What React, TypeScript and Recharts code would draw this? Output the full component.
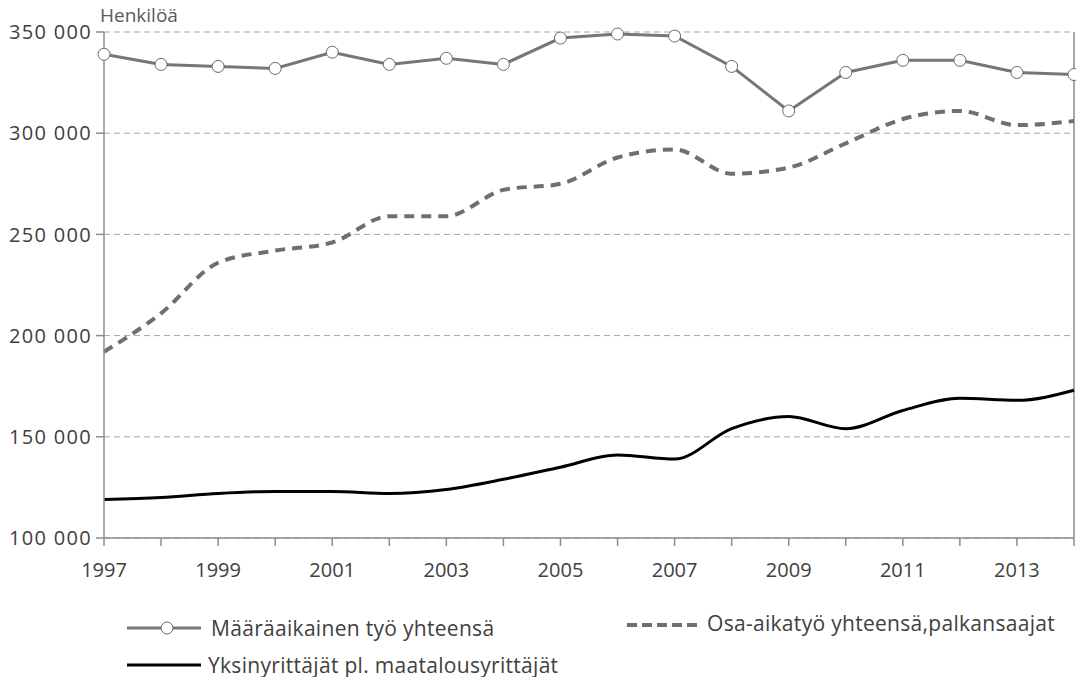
import React from 'react';
import { LineChart, Line, XAxis, YAxis, CartesianGrid, ReferenceLine } from 'recharts';

const years = [1997, 1998, 1999, 2000, 2001, 2002, 2003, 2004, 2005, 2006, 2007, 2008, 2009, 2010, 2011, 2012, 2013, 2014];
const maaraaikainen = [339000, 334000, 333000, 332000, 340000, 334000, 337000, 334000, 347000, 349000, 348000, 333000, 311000, 330000, 336000, 336000, 330000, 329000];
const osaAikatyo = [192000, 211000, 236000, 242000, 246000, 259000, 259000, 272000, 275000, 288000, 292000, 280000, 283000, 295000, 307000, 311000, 304000, 306000];
const yksinyrittajat = [119000, 120000, 122000, 123000, 123000, 122000, 124000, 129000, 135000, 141000, 139000, 154000, 160000, 154000, 163000, 169000, 168000, 173000];
const yTicks = [100000, 150000, 200000, 250000, 300000, 350000];

const seriesNames = {
  maara: 'Määräaikainen työ yhteensä',
  osa: 'Osa-aikatyö yhteensä,palkansaajat',
  yksin: 'Yksinyrittäjät pl. maatalousyrittäjät',
};

const data = years.map((y, i) => ({
  year: y,
  maara: maaraaikainen[i],
  osa: osaAikatyo[i],
  yksin: yksinyrittajat[i],
}));

const FONT = "'Open Sans', sans-serif";
const TEXT = '#404040';
const AXIS = '#8c8c8c';

const fmt = (v: number) => {
  const s = String(v);
  return s.slice(0, s.length - 3) + '\u00a0' + s.slice(-3);
};

export default function App() {
  return (
    <div style={{ position: 'absolute', left: 0, top: 0, width: 1076, height: 677, background: '#fff', fontFamily: FONT }}>
      <LineChart width={1076} height={677} data={data} margin={{ top: 32, right: 2, bottom: 99, left: 0 }}>
        <CartesianGrid vertical={false} stroke="#a6a6a6" strokeDasharray="6 4" />
        <XAxis
          dataKey="year"
          type="number"
          domain={[1997, 2014]}
          ticks={years}
          interval={0}
          tickFormatter={(v: number) => (v % 2 === 1 ? String(v) : '')}
          stroke={AXIS}
          strokeWidth={1.5}
          tickSize={8}
          tickMargin={17}
          height={40}
          tick={{ fill: TEXT, fontSize: 20, fontFamily: FONT }}
        />
        <YAxis
          domain={[100000, 350000]}
          ticks={yTicks}
          interval={0}
          tickFormatter={fmt}
          stroke={AXIS}
          strokeWidth={1.5}
          tickSize={8}
          tickMargin={4}
          width={104}
          tick={{ fill: TEXT, fontSize: 20, fontFamily: FONT, letterSpacing: 1.3 }}
        />
        <ReferenceLine x={2014} stroke={AXIS} strokeWidth={1.5} />
        <Line
          type="monotone"
          dataKey="yksin"
          name={seriesNames.yksin}
          stroke="#000000"
          strokeWidth={3}
          dot={false}
          isAnimationActive={false}
        />
        <Line
          type="monotone"
          dataKey="osa"
          name={seriesNames.osa}
          stroke="#6f6f6f"
          strokeWidth={4}
          strokeDasharray="10 7"
          dot={false}
          isAnimationActive={false}
        />
        <Line
          type="linear"
          dataKey="maara"
          name={seriesNames.maara}
          stroke="#767676"
          strokeWidth={3}
          dot={{ r: 6, fill: '#ffffff', stroke: '#6a6a6a', strokeWidth: 1 }}
          isAnimationActive={false}
        />
      </LineChart>
      <div style={{ position: 'absolute', left: 100, top: 2, fontSize: 19, color: '#595959' }}>Henkilöä</div>
      <div style={{ position: 'absolute', left: 127, top: 614, height: 28, display: 'flex', alignItems: 'center', fontSize: 21, color: TEXT, letterSpacing: 0.3 }}>
        <svg width={74} height={20}>
          <line x1={0} y1={10} x2={74} y2={10} stroke="#767676" strokeWidth={3} />
          <circle cx={40} cy={10} r={6} fill="#fff" stroke="#6a6a6a" strokeWidth={1} />
        </svg>
        <span style={{ marginLeft: 10 }}>{seriesNames.maara}</span>
      </div>
      <div style={{ position: 'absolute', left: 627, top: 609, height: 28, display: 'flex', alignItems: 'center', fontSize: 21, color: TEXT, letterSpacing: 0.3 }}>
        <svg width={74} height={28}>
          <line x1={0} y1={16} x2={74} y2={16} stroke="#6f6f6f" strokeWidth={4} strokeDasharray="10 5" />
        </svg>
        <span style={{ marginLeft: 6 }}>{seriesNames.osa}</span>
      </div>
      <div style={{ position: 'absolute', left: 127, top: 651, height: 28, display: 'flex', alignItems: 'center', fontSize: 21, color: TEXT, letterSpacing: 0.3 }}>
        <svg width={74} height={20}>
          <line x1={0} y1={10} x2={74} y2={10} stroke="#000" strokeWidth={3} />
        </svg>
        <span style={{ marginLeft: 7 }}>{seriesNames.yksin}</span>
      </div>
    </div>
  );
}
